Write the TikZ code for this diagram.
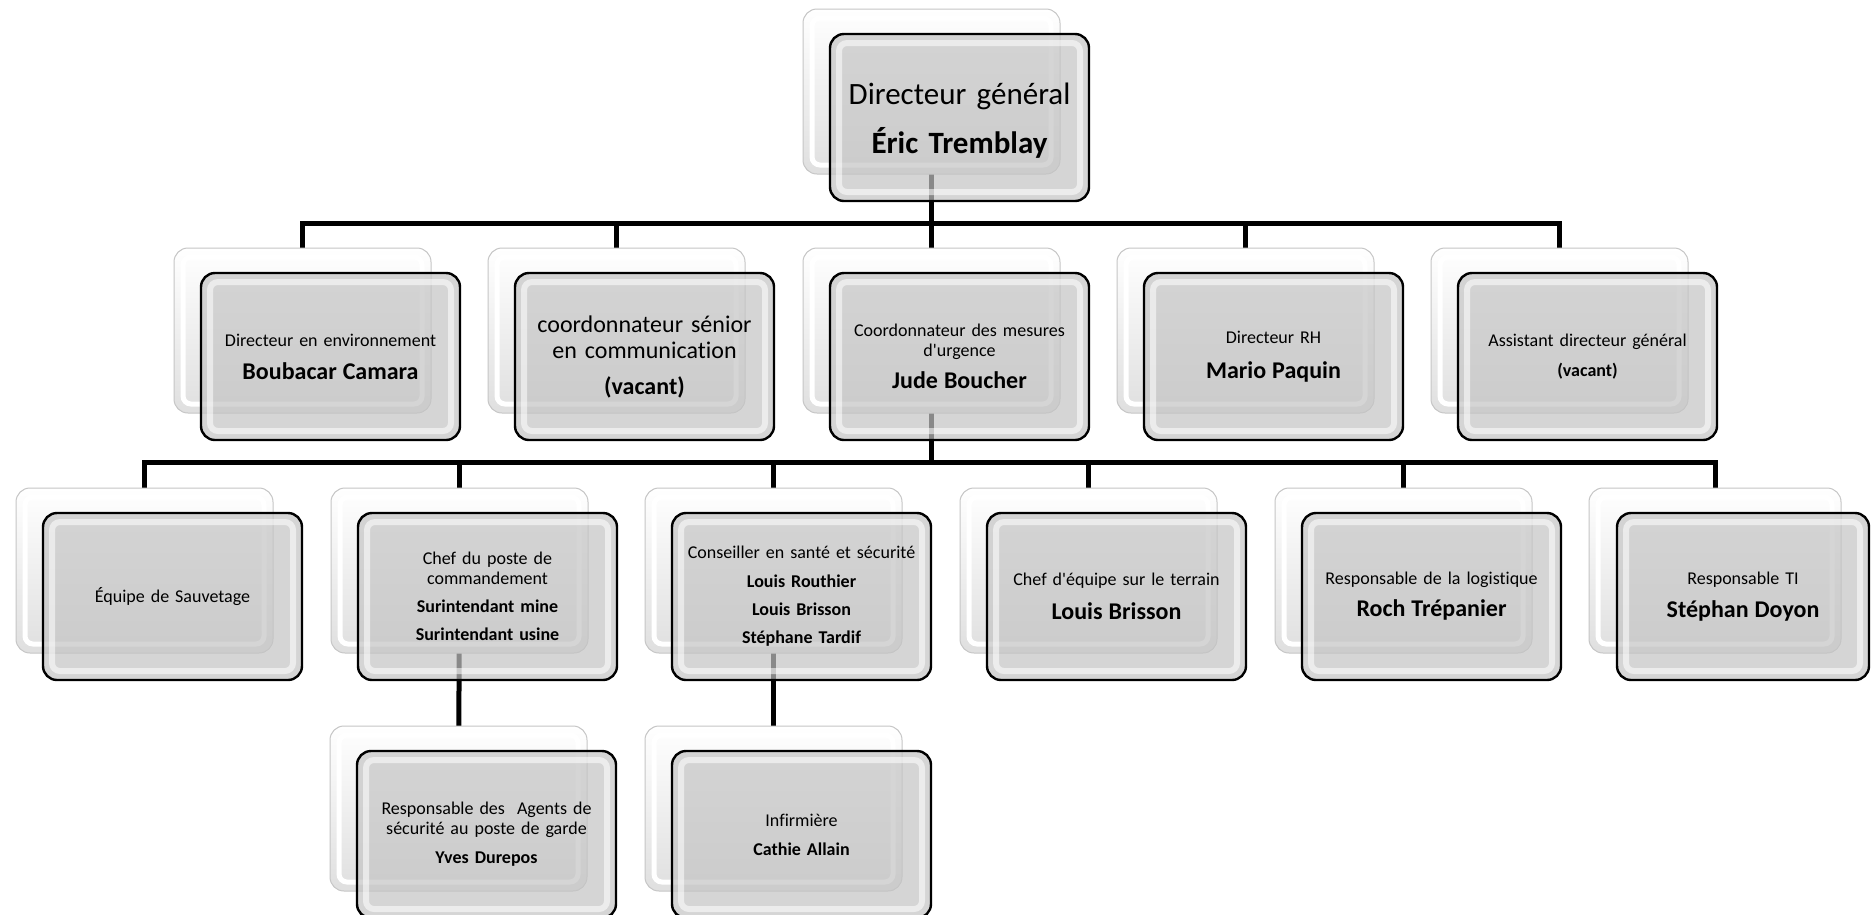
\documentclass[tikz,border=0pt]{standalone}
\usepackage{fontspec}
\setmainfont{Carlito}[Ligatures={TeX,NoCommon}]
\usetikzlibrary{backgrounds}
\newcommand\bn[1]{{\fontsize{24}{20}\selectfont\bfseries #1}}
\newcommand\orgpair[5][]{%
  \node[backbox,#1] (b-#2) at (#3-28,#4-26) {};
  \node[frontbox,#1] (#2) at (#3,#4) {#5};
}
\tikzset{
  backbox/.style={rectangle, rounded corners=14pt, minimum width=257pt,
    minimum height=165pt, inner sep=0pt, draw=gray!45, line width=1pt,
    top color=white, bottom color=gray!25,
    path picture={\draw[white, line width=5pt, rounded corners=8pt]
      ([xshift=9pt,yshift=-9pt]path picture bounding box.north west) rectangle
      ([xshift=-9pt,yshift=9pt]path picture bounding box.south east);}},
  frontbox/.style={rectangle, rounded corners=14pt, minimum width=259pt,
    minimum height=167pt, inner sep=0pt, draw=black, line width=2.4pt,
    fill=gray!46, fill opacity=0.7, text opacity=1, align=center,
    text width=250pt,
    font={\fontsize{18}{20}\selectfont\lineskiplimit=-200pt},
    path picture={\draw[white, line width=6pt, opacity=0.55, rounded corners=8pt]
      ([xshift=9pt,yshift=-9pt]path picture bounding box.north west) rectangle
      ([xshift=-9pt,yshift=9pt]path picture bounding box.south east);}},
  conn/.style={draw=black, line width=5pt},
}
\begin{document}
\begin{tikzpicture}[x=1pt,y=-1pt]
\useasboundingbox (0,0) rectangle (1873,914);
% level 1
\orgpair[font={\fontsize{31}{36}\selectfont\lineskiplimit=-200pt}]{top}{959.5}{117.5}{\rule{0pt}{27pt}Directeur général\\[13pt]\textbf{Éric Tremblay}}
% level 2
\orgpair{env}{330.5}{356.5}{Directeur en environnement\\[13pt]\bn{Boubacar Camara}}
\orgpair[font={\fontsize{24}{26}\selectfont\lineskiplimit=-200pt}]{comm}{644.5}{356.5}{coordonnateur sénior\\en communication\\[10pt]\textbf{(vacant)}}
\orgpair{jude}{959.5}{356.5}{Coordonnateur des mesures\\d\textquotesingle urgence\\[12pt]\bn{Jude Boucher}}
\orgpair{rh}{1273.5}{356.5}{Directeur RH\\[15pt]\bn{Mario Paquin}}
\orgpair{asst}{1587.5}{356.5}{Assistant directeur général\\[10pt]\textbf{(vacant)}}
% level 3
\orgpair{equipe}{172.5}{596.5}{Équipe de Sauvetage}
\orgpair{chef}{487.5}{596.5}{Chef du poste de\\commandement\\[8pt]\textbf{Surintendant mine}\\[8pt]\textbf{Surintendant usine}}
\orgpair{cons}{801.5}{596.5}{Conseiller en santé et sécurité\\[9pt]\textbf{Louis Routhier}\\[8pt]\textbf{Louis Brisson}\\[8pt]\textbf{Stéphane Tardif}}
\orgpair{terrain}{1116.5}{596.5}{Chef d\textquotesingle équipe sur le terrain\\[14pt]\bn{Louis Brisson}}
\orgpair{log}{1431.5}{596.5}{Responsable de la logistique\\[12pt]\bn{Roch Trépanier}}
\orgpair[minimum width=252pt]{ti}{1743}{596.5}{Responsable TI\\[13pt]\bn{Stéphan Doyon}}
% level 4
\orgpair{agents}{486.5}{834.5}{Responsable des\ \ Agents de\\sécurité au poste de garde\\[9pt]\textbf{Yves Durepos}}
\orgpair{inf}{801.5}{834.5}{Infirmière\\[9pt]\textbf{Cathie Allain}}
% connectors
\begin{scope}[on background layer]
  \fill[white] (0,0) rectangle (1873,914);
  \coordinate (bar1) at (0,223);
  \coordinate (bar2) at (0,462);
  \coordinate (j1) at (b-top.center |- bar1);
  \coordinate (j2) at (b-jude.center |- bar2);
  \draw[conn] (b-top.center) -- (j1);
  \foreach \c in {env,comm,jude,rh,asst} \draw[conn] (j1) -| (b-\c.center);
  \draw[conn] (b-jude.center) -- (j2);
  \foreach \c in {equipe,chef,cons,terrain,log,ti} \draw[conn] (j2) -| (b-\c.center);
  \draw[conn] (b-chef.center) -- (b-agents.center);
  \draw[conn] (b-cons.center) -- (b-inf.center);
\end{scope}
\end{tikzpicture}
\end{document}
